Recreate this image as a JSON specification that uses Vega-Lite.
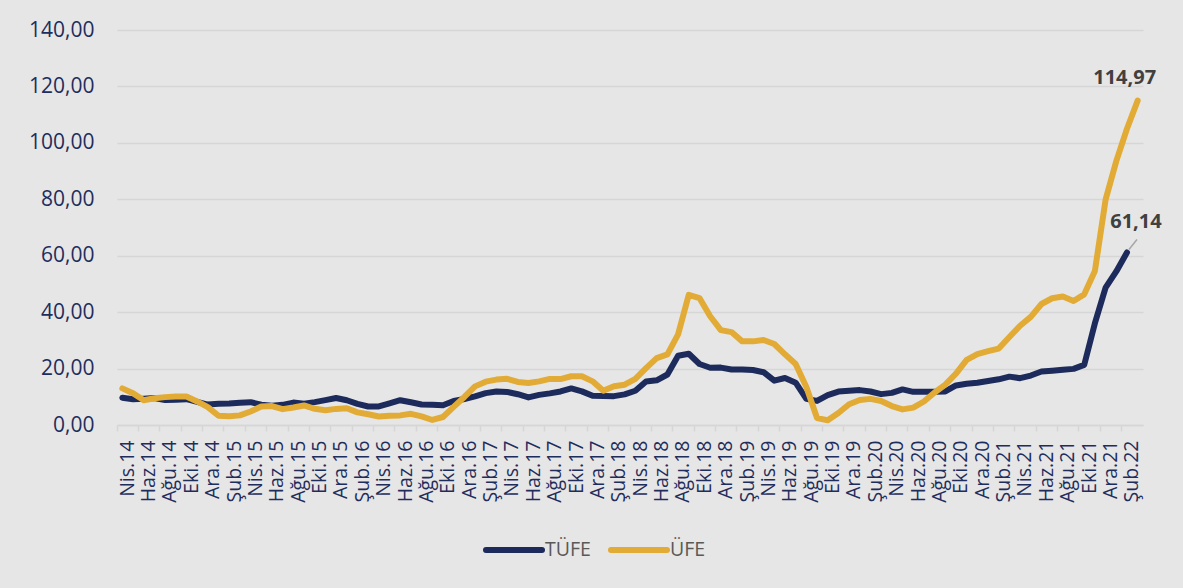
{
  "$schema": "https://vega.github.io/schema/vega-lite/v6.json",
  "width": 1026,
  "height": 395,
  "autosize": {"type": "none"},
  "padding": {"left": 117, "top": 30, "right": 40, "bottom": 163},
  "background": "#e6e6e6",
  "config": {
    "view": {"stroke": null},
    "font": "Open Sans",
    "locale": {"number": {"decimal": ",", "thousands": ".", "grouping": [3], "currency": ["", " TL"]}}
  },
  "data": {
    "values": [
      {"ay": "Nis.14", "TÜFE": 9.66, "ÜFE": 12.98},
      {"ay": "May.14", "TÜFE": 9.16, "ÜFE": 11.28},
      {"ay": "Haz.14", "TÜFE": 9.32, "ÜFE": 8.75},
      {"ay": "Tem.14", "TÜFE": 9.54, "ÜFE": 9.46},
      {"ay": "Ağu.14", "TÜFE": 8.86, "ÜFE": 9.88},
      {"ay": "Eyl.14", "TÜFE": 8.96, "ÜFE": 10.10},
      {"ay": "Eki.14", "TÜFE": 9.15, "ÜFE": 10.10},
      {"ay": "Kas.14", "TÜFE": 8.17, "ÜFE": 8.36},
      {"ay": "Ara.14", "TÜFE": 7.24, "ÜFE": 6.36},
      {"ay": "Oca.15", "TÜFE": 7.55, "ÜFE": 3.28},
      {"ay": "Şub.15", "TÜFE": 7.61, "ÜFE": 3.10},
      {"ay": "Mar.15", "TÜFE": 7.91, "ÜFE": 3.41},
      {"ay": "Nis.15", "TÜFE": 8.09, "ÜFE": 4.80},
      {"ay": "May.15", "TÜFE": 7.20, "ÜFE": 6.52},
      {"ay": "Haz.15", "TÜFE": 6.81, "ÜFE": 6.73},
      {"ay": "Tem.15", "TÜFE": 7.14, "ÜFE": 5.62},
      {"ay": "Ağu.15", "TÜFE": 7.95, "ÜFE": 6.21},
      {"ay": "Eyl.15", "TÜFE": 7.58, "ÜFE": 6.92},
      {"ay": "Eki.15", "TÜFE": 8.10, "ÜFE": 5.74},
      {"ay": "Kas.15", "TÜFE": 8.81, "ÜFE": 5.25},
      {"ay": "Ara.15", "TÜFE": 9.58, "ÜFE": 5.71},
      {"ay": "Oca.16", "TÜFE": 8.78, "ÜFE": 5.94},
      {"ay": "Şub.16", "TÜFE": 7.46, "ÜFE": 4.47},
      {"ay": "Mar.16", "TÜFE": 6.57, "ÜFE": 3.80},
      {"ay": "Nis.16", "TÜFE": 6.58, "ÜFE": 3.03},
      {"ay": "May.16", "TÜFE": 7.64, "ÜFE": 3.25},
      {"ay": "Haz.16", "TÜFE": 8.79, "ÜFE": 3.41},
      {"ay": "Tem.16", "TÜFE": 8.05, "ÜFE": 3.96},
      {"ay": "Ağu.16", "TÜFE": 7.28, "ÜFE": 3.03},
      {"ay": "Eyl.16", "TÜFE": 7.16, "ÜFE": 1.78},
      {"ay": "Eki.16", "TÜFE": 7.00, "ÜFE": 2.84},
      {"ay": "Kas.16", "TÜFE": 8.53, "ÜFE": 6.41},
      {"ay": "Ara.16", "TÜFE": 9.22, "ÜFE": 9.94},
      {"ay": "Oca.17", "TÜFE": 10.13, "ÜFE": 13.69},
      {"ay": "Şub.17", "TÜFE": 11.29, "ÜFE": 15.36},
      {"ay": "Mar.17", "TÜFE": 11.87, "ÜFE": 16.09},
      {"ay": "Nis.17", "TÜFE": 11.72, "ÜFE": 16.37},
      {"ay": "May.17", "TÜFE": 10.90, "ÜFE": 15.26},
      {"ay": "Haz.17", "TÜFE": 9.79, "ÜFE": 14.87},
      {"ay": "Tem.17", "TÜFE": 10.68, "ÜFE": 15.45},
      {"ay": "Ağu.17", "TÜFE": 11.20, "ÜFE": 16.34},
      {"ay": "Eyl.17", "TÜFE": 11.90, "ÜFE": 16.28},
      {"ay": "Eki.17", "TÜFE": 12.98, "ÜFE": 17.28},
      {"ay": "Kas.17", "TÜFE": 11.92, "ÜFE": 17.30},
      {"ay": "Ara.17", "TÜFE": 10.35, "ÜFE": 15.47},
      {"ay": "Oca.18", "TÜFE": 10.26, "ÜFE": 12.14},
      {"ay": "Şub.18", "TÜFE": 10.23, "ÜFE": 13.71},
      {"ay": "Mar.18", "TÜFE": 10.85, "ÜFE": 14.28},
      {"ay": "Nis.18", "TÜFE": 12.15, "ÜFE": 16.37},
      {"ay": "May.18", "TÜFE": 15.39, "ÜFE": 20.16},
      {"ay": "Haz.18", "TÜFE": 15.85, "ÜFE": 23.71},
      {"ay": "Tem.18", "TÜFE": 17.90, "ÜFE": 25.00},
      {"ay": "Ağu.18", "TÜFE": 24.52, "ÜFE": 32.13},
      {"ay": "Eyl.18", "TÜFE": 25.24, "ÜFE": 46.15},
      {"ay": "Eki.18", "TÜFE": 21.62, "ÜFE": 45.01},
      {"ay": "Kas.18", "TÜFE": 20.30, "ÜFE": 38.54},
      {"ay": "Ara.18", "TÜFE": 20.35, "ÜFE": 33.64},
      {"ay": "Oca.19", "TÜFE": 19.67, "ÜFE": 32.93},
      {"ay": "Şub.19", "TÜFE": 19.71, "ÜFE": 29.64},
      {"ay": "Mar.19", "TÜFE": 19.50, "ÜFE": 29.64},
      {"ay": "Nis.19", "TÜFE": 18.71, "ÜFE": 30.12},
      {"ay": "May.19", "TÜFE": 15.72, "ÜFE": 28.71},
      {"ay": "Haz.19", "TÜFE": 16.65, "ÜFE": 25.04},
      {"ay": "Tem.19", "TÜFE": 15.01, "ÜFE": 21.66},
      {"ay": "Ağu.19", "TÜFE": 9.26, "ÜFE": 13.45},
      {"ay": "Eyl.19", "TÜFE": 8.55, "ÜFE": 2.45},
      {"ay": "Eki.19", "TÜFE": 10.56, "ÜFE": 1.70},
      {"ay": "Kas.19", "TÜFE": 11.84, "ÜFE": 4.26},
      {"ay": "Ara.19", "TÜFE": 12.15, "ÜFE": 7.36},
      {"ay": "Oca.20", "TÜFE": 12.37, "ÜFE": 8.84},
      {"ay": "Şub.20", "TÜFE": 11.86, "ÜFE": 9.26},
      {"ay": "Mar.20", "TÜFE": 10.94, "ÜFE": 8.50},
      {"ay": "Nis.20", "TÜFE": 11.39, "ÜFE": 6.71},
      {"ay": "May.20", "TÜFE": 12.62, "ÜFE": 5.53},
      {"ay": "Haz.20", "TÜFE": 11.76, "ÜFE": 6.17},
      {"ay": "Tem.20", "TÜFE": 11.77, "ÜFE": 8.33},
      {"ay": "Ağu.20", "TÜFE": 11.75, "ÜFE": 11.53},
      {"ay": "Eyl.20", "TÜFE": 11.89, "ÜFE": 14.33},
      {"ay": "Eki.20", "TÜFE": 14.03, "ÜFE": 18.20},
      {"ay": "Kas.20", "TÜFE": 14.60, "ÜFE": 23.11},
      {"ay": "Ara.20", "TÜFE": 14.97, "ÜFE": 25.15},
      {"ay": "Oca.21", "TÜFE": 15.61, "ÜFE": 26.16},
      {"ay": "Şub.21", "TÜFE": 16.19, "ÜFE": 27.09},
      {"ay": "Mar.21", "TÜFE": 17.14, "ÜFE": 31.20},
      {"ay": "Nis.21", "TÜFE": 16.59, "ÜFE": 35.17},
      {"ay": "May.21", "TÜFE": 17.53, "ÜFE": 38.33},
      {"ay": "Haz.21", "TÜFE": 18.95, "ÜFE": 42.89},
      {"ay": "Tem.21", "TÜFE": 19.25, "ÜFE": 44.92},
      {"ay": "Ağu.21", "TÜFE": 19.58, "ÜFE": 45.52},
      {"ay": "Eyl.21", "TÜFE": 19.89, "ÜFE": 43.96},
      {"ay": "Eki.21", "TÜFE": 21.31, "ÜFE": 46.31},
      {"ay": "Kas.21", "TÜFE": 36.08, "ÜFE": 54.62},
      {"ay": "Ara.21", "TÜFE": 48.69, "ÜFE": 79.89},
      {"ay": "Oca.22", "TÜFE": 54.44, "ÜFE": 93.53},
      {"ay": "Şub.22", "TÜFE": 61.14, "ÜFE": 105.01},
      {"ay": "Mar.22", "TÜFE": null, "ÜFE": 114.97}
    ]
  },
  "transform": [
    {"fold": ["TÜFE", "ÜFE"], "as": ["seri", "deger"]},
    {"filter": "isValid(datum.deger)"}
  ],
  "encoding": {
    "x": {
      "field": "ay",
      "type": "nominal",
      "sort": null,
      "scale": {"type": "band", "paddingInner": 0, "paddingOuter": 0},
      "axis": {
        "title": null,
        "values": ["Nis.14","Haz.14","Ağu.14","Eki.14","Ara.14","Şub.15","Nis.15","Haz.15","Ağu.15","Eki.15","Ara.15","Şub.16","Nis.16","Haz.16","Ağu.16","Eki.16","Ara.16","Şub.17","Nis.17","Haz.17","Ağu.17","Eki.17","Ara.17","Şub.18","Nis.18","Haz.18","Ağu.18","Eki.18","Ara.18","Şub.19","Nis.19","Haz.19","Ağu.19","Eki.19","Ara.19","Şub.20","Nis.20","Haz.20","Ağu.20","Eki.20","Ara.20","Şub.21","Nis.21","Haz.21","Ağu.21","Eki.21","Ara.21","Şub.22"],
        "bandPosition": 0,
        "labelOffset": 5.35,
        "labelAngle": 270,
        "labelAlign": "right",
        "labelBaseline": "middle",
        "labelFontSize": 19.5,
        "labelColor": "#1f2d5c",
        "labelPadding": 9,
        "labelOverlap": false,
        "tickSize": 6,
        "tickColor": "#d6d6d6",
        "tickWidth": 1.5,
        "domainColor": "#d6d6d6",
        "domainWidth": 1.5,
        "grid": false
      }
    },
    "y": {
      "field": "deger",
      "type": "quantitative",
      "scale": {"domain": [0, 140], "nice": false},
      "axis": {
        "title": null,
        "values": [0, 20, 40, 60, 80, 100, 120, 140],
        "format": ".2f",
        "labelFontSize": 21,
        "labelColor": "#1f2d5c",
        "labelPadding": 23,
        "ticks": false,
        "domain": false,
        "grid": true,
        "gridColor": "#d6d6d6",
        "gridWidth": 1.5
      }
    }
  },
  "layer": [
    {
      "mark": {"type": "line", "strokeWidth": 6, "strokeCap": "round", "strokeJoin": "round"},
      "encoding": {
        "color": {
          "field": "seri",
          "type": "nominal",
          "scale": {"domain": ["TÜFE", "ÜFE"], "range": ["#1c2b5b", "#e2ab36"]},
          "legend": {
            "title": null,
            "orient": "none",
            "direction": "horizontal",
            "legendX": 366,
            "legendY": 489,
            "padding": 0,
            "symbolType": "stroke",
            "symbolSize": 3136,
            "symbolStrokeWidth": 6,
            "labelFontSize": 19.5,
            "labelColor": "#595959",
            "labelOffset": 0,
            "columnPadding": 8,
            "encode": {"symbols": {"update": {"strokeCap": {"value": "round"}}}}
          }
        }
      }
    },
    {
      "transform": [{"filter": "datum.seri == 'ÜFE' && datum.ay == 'Mar.22'"}],
      "mark": {"type": "text", "fontSize": 20, "fontWeight": "bold", "color": "#404040", "dx": -13, "dy": -23, "baseline": "middle", "align": "center"},
      "encoding": {"text": {"field": "deger", "type": "quantitative", "format": ".2f"}}
    },
    {
      "transform": [{"filter": "datum.seri == 'TÜFE' && datum.ay == 'Şub.22'"}],
      "mark": {"type": "text", "fontSize": 20, "fontWeight": "bold", "color": "#404040", "dx": 9, "dy": -30, "baseline": "middle", "align": "center"},
      "encoding": {"text": {"field": "deger", "type": "quantitative", "format": ".2f"}}
    },
    {
      "transform": [{"filter": "datum.seri == 'TÜFE' && datum.ay == 'Şub.22'"}],
      "mark": {"type": "rule", "color": "#a6a6a6", "strokeWidth": 1.5, "yOffset": -3, "xOffset": 2, "x2Offset": 10, "y2Offset": -13},
      "encoding": {
        "x2": {"field": "ay"},
        "y2": {"field": "deger"}
      }
    }
  ]
}
